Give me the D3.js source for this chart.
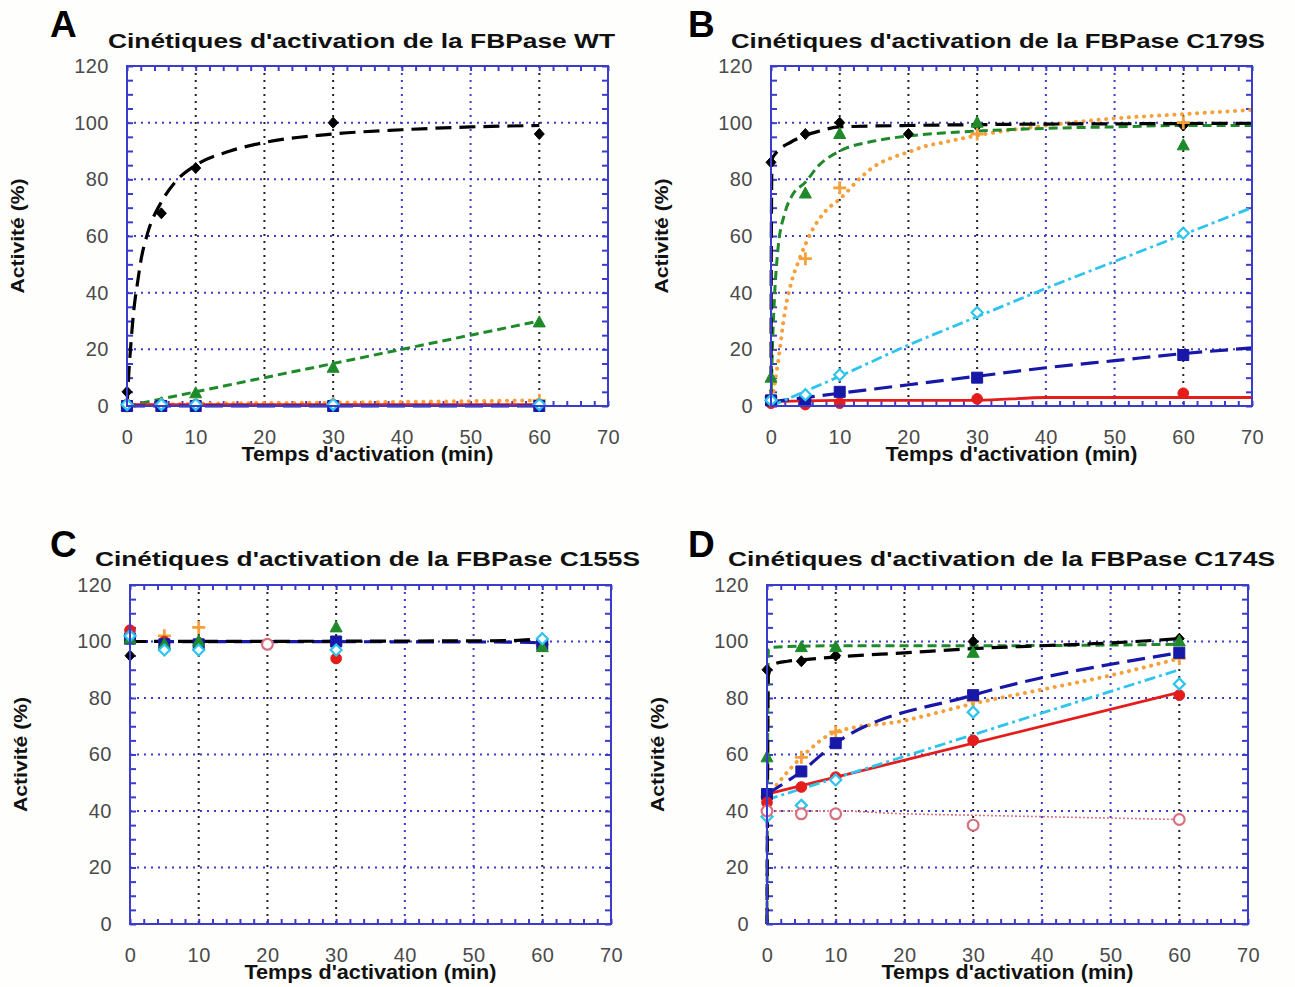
<!DOCTYPE html>
<html><head><meta charset="utf-8">
<script src="https://cdn.jsdelivr.net/npm/d3@7"></script>
<style>body{margin:0;background:#fff}svg{display:block}</style>
</head><body>
<svg id="c" width="1295" height="987"></svg>
<script>
// ---------- axis ticks ----------
const xTicks = [0,10,20,30,40,50,60,70];
const yTicks = [0,20,40,60,80,100,120];
const darkGridX = [10,20,30,60];
const sampleTimes = [0,5,10,30,60];

// ---------- Panel A : FBPase WT ----------
const A_black  = [5, 68, 84, 100, 96];
const A_green  = [0, 1, 4.5, 13.5, 29.5];
const A_orange = [0, 0.5, 0.5, 1, 2];
const A_red    = [0.5, 0.5, 0.5, 0.5, 0.5];
const A_blue   = [0, 0, 0, 0, 0];
const A_cyan   = [0.5, 0.5, 0.5, 0.5, 0.5];
const A_blackFitT = [0, 0.3, 0.6, 1, 1.5, 2, 3, 5, 7, 10, 15, 20, 30, 40, 50, 60];
const A_blackFitV = [0, 13, 23, 34, 43, 51, 61, 72, 79, 85, 90, 93, 96, 97.5, 98.5, 99];
const A_greenFitT = [0, 10, 20, 30, 40, 50, 60];
const A_greenFitV = [0, 5, 10, 15, 20, 25, 30];
const A_orangeFitV = [0, 0.5, 0.8, 1.2, 2];
const A_redFitV    = [0.5, 0.5, 0.5, 0.5, 0.5];
const A_blueFitV   = [0, 0, 0, 0, 0];

// ---------- Panel B : FBPase C179S ----------
const B_blackT = [0, 5, 10, 20, 30, 60];
const B_black  = [86, 96, 100, 96, 99, 99];
const B_green  = [10, 75, 96, 100, 92];
const B_orange = [3, 52, 77, 96, 100];
const B_cyan   = [2, 4, 11, 33, 61];
const B_blue   = [2, 2, 5, 10, 18];
const B_red    = [1, 0.5, 1, 2.5, 4.5];
const B_blackFitT = [0, 0.05, 0.15, 1, 2.8, 5, 7, 10, 20, 30, 40, 50, 60, 70];
const B_blackFitV = [0, 60, 87, 90, 93, 95.5, 97, 98.5, 99, 99.3, 99.5, 99.6, 99.7, 99.8];
const B_greenFitT = [0, 0.2, 0.5, 1, 2, 3, 5, 7, 10, 15, 20, 30, 40, 50, 60, 70];
const B_greenFitV = [0, 20, 38, 55, 68, 74, 79, 85, 90, 93.5, 95.3, 97, 98, 98.5, 99, 99];
const B_orangeFitT = [0, 1, 2, 3, 4, 5, 6, 8, 10, 13, 15, 18, 20, 22, 25, 30, 40, 50, 60, 70];
const B_orangeFitV = [0, 15, 33, 44, 51, 57, 62, 69, 73, 80.5, 84.5, 88, 89.6, 91.4, 93, 95.5, 99, 101.5, 103, 104.5];
const B_lineT = [0, 10, 20, 30, 40, 50, 60, 70];
const B_cyanFitV = [0, 10.5, 21.5, 31.5, 41.5, 51, 60.5, 70];
const B_blueFitV = [1.5, 4.5, 7.5, 10.5, 13.5, 16, 18.5, 20.5];
const B_redFitV  = [1.5, 2, 2, 2, 3, 3, 3, 3];

// ---------- Panel C : FBPase C155S ----------
const C_black  = [95, 100, 100, 100, 101];
const C_green  = [101, 99, 100, 105, 98];
const C_orange = [102, 102, 105, 99, 99];
const C_red    = [104, 100, 99, 94, 99];
const C_blue   = [101, 99, 99, 100, 99];
const C_cyan   = [102, 97, 97, 97, 101];
const C_pinkT  = [20];
const C_pink   = [99];
const C_lineT  = [0, 55, 60];
const C_blackFitV = [100, 100.3, 101];
const C_blueFitV  = [100, 99.8, 99.5];

// ---------- Panel D : FBPase C174S ----------
const D_black  = [90, 93, 95, 100, 101];
const D_green  = [59, 98, 98, 96, 100];
const D_blue   = [46, 54, 64, 81, 96];
const D_orange = [45, 59, 68, 79, 94];
const D_cyan   = [38, 42, 51, 75, 85];
const D_red    = [43, 48.5, 52, 65, 81];
const D_pink   = [40, 39, 39, 35, 37];
const D_blackFitT = [0, 0.2, 1, 3, 5, 10, 20, 30, 40, 50, 60];
const D_blackFitV = [0, 88, 92, 93, 93.5, 94.5, 96, 97.5, 98.5, 99.5, 101];
const D_greenFitT = [0, 0.2, 1, 10, 30, 60];
const D_greenFitV = [0, 97, 98, 98.5, 98.5, 99];
const D_orangeFitT = [0, 5, 10, 20, 30, 40, 50, 60];
const D_orangeFitV = [45, 59, 68, 72, 78, 83, 88, 94];
const D_lineEnds = [0, 60];
const D_cyanFitV = [44, 90];
const D_redFitV  = [46, 82];
const D_pinkFitT = [0, 10, 20, 30, 40, 50, 60];
const D_pinkFitV = [40, 40, 39, 38.5, 38, 37.5, 37];

// ---------- styles ----------
const styles = {
  black:  {color:'#000000', dash:'16,8',      width:3.2, cap:'butt',  marker:'diamond',  fill:true},
  green:  {color:'#1f8a2a', dash:'9,5',       width:3,   cap:'butt',  marker:'triangle', fill:true},
  orange: {color:'#f5a03a', dash:'0.1,7.5',   width:4,   cap:'round', marker:'plus',     fill:true},
  red:    {color:'#e41c1c', dash:null,        width:2.8, cap:'butt',  marker:'circle',   fill:true},
  blue:   {color:'#1818a8', dash:'18,8',      width:3.2, cap:'butt',  marker:'square',   fill:true},
  cyan:   {color:'#2ec4ee', dash:'11,4,3,4',  width:2.8, cap:'butt',  marker:'diamond',  fill:false},
  pink:   {color:'#d9707e', dash:'2,2',       width:1.6, cap:'butt',  marker:'circle',   fill:false}
};

function pairs(t, v){ return t.map((tt,i)=>[tt, v[i]]); }

const panels = [
  {l:127, r:608, t:66, b:406, letter:'A', lx:50, ly:37,
   title:"Cinétiques d'activation de la FBPase WT", tx:108, ty:48, tlen:507,
   lines:[
     ['green', pairs(A_greenFitT, A_greenFitV)],
     ['orange', pairs(sampleTimes, A_orangeFitV)],
     ['red', pairs(sampleTimes, A_redFitV)],
     ['blue', pairs(sampleTimes, A_blueFitV)],
     ['black', pairs(A_blackFitT, A_blackFitV)]
   ],
   points:[
     ['black', pairs(sampleTimes, A_black)],
     ['green', pairs(sampleTimes, A_green)],
     ['orange', pairs(sampleTimes, A_orange)],
     ['red', pairs(sampleTimes, A_red)],
     ['blue', pairs(sampleTimes, A_blue)],
     ['cyan', pairs(sampleTimes, A_cyan)]
   ]},
  {l:771, r:1252, t:66, b:406, letter:'B', lx:688, ly:37,
   title:"Cinétiques d'activation de la FBPase C179S", tx:731, ty:48, tlen:534,
   lines:[
     ['red', pairs(B_lineT, B_redFitV)],
     ['blue', pairs(B_lineT, B_blueFitV)],
     ['cyan', pairs(B_lineT, B_cyanFitV)],
     ['orange', pairs(B_orangeFitT, B_orangeFitV)],
     ['green', pairs(B_greenFitT, B_greenFitV)],
     ['black', pairs(B_blackFitT, B_blackFitV)]
   ],
   points:[
     ['black', pairs(B_blackT, B_black)],
     ['orange', pairs(sampleTimes, B_orange)],
     ['green', pairs(sampleTimes, B_green)],
     ['red', pairs(sampleTimes, B_red)],
     ['blue', pairs(sampleTimes, B_blue)],
     ['cyan', pairs(sampleTimes, B_cyan)]
   ]},
  {l:130, r:611, t:585, b:924, letter:'C', lx:50, ly:557,
   title:"Cinétiques d'activation de la FBPase C155S", tx:95, ty:566, tlen:545,
   lines:[
     ['blue', pairs(C_lineT, C_blueFitV)],
     ['black', pairs(C_lineT, C_blackFitV)]
   ],
   points:[
     ['black', pairs(sampleTimes, C_black)],
     ['orange', pairs(sampleTimes, C_orange)],
     ['red', pairs(sampleTimes, C_red)],
     ['blue', pairs(sampleTimes, C_blue)],
     ['green', pairs(sampleTimes, C_green)],
     ['cyan', pairs(sampleTimes, C_cyan)],
     ['pink', pairs(C_pinkT, C_pink)]
   ]},
  {l:767, r:1248, t:585, b:924, letter:'D', lx:688, ly:557,
   title:"Cinétiques d'activation de la FBPase C174S", tx:728, ty:566, tlen:547,
   lines:[
     ['pink', pairs(D_pinkFitT, D_pinkFitV)],
     ['red', pairs(D_lineEnds, D_redFitV)],
     ['cyan', pairs(D_lineEnds, D_cyanFitV)],
     ['orange', pairs(D_orangeFitT, D_orangeFitV)],
     ['blue', pairs(sampleTimes, D_blue)],
     ['green', pairs(D_greenFitT, D_greenFitV)],
     ['black', pairs(D_blackFitT, D_blackFitV)]
   ],
   points:[
     ['black', pairs(sampleTimes, D_black)],
     ['green', pairs(sampleTimes, D_green)],
     ['orange', pairs(sampleTimes, D_orange)],
     ['blue', pairs(sampleTimes, D_blue)],
     ['red', pairs(sampleTimes, D_red)],
     ['cyan', pairs(sampleTimes, D_cyan)],
     ['pink', pairs(sampleTimes, D_pink)]
   ]}
];

const svg = d3.select('#c');
svg.append('rect').attr('width',1295).attr('height',987).attr('fill','#fefefc');
const FONT = "'Liberation Sans', Arial, Helvetica, sans-serif";
const BLUE = '#3b3bcc';

function markerPath(kind, filled){
  if (kind==='diamond') return filled ? 'M0,-5.5L5,0L0,5.5L-5,0Z' : 'M0,-5.5L5.5,0L0,5.5L-5.5,0Z';
  if (kind==='triangle') return 'M0,-6.5L6,4.5L-6,4.5Z';
  if (kind==='square') return 'M-5.5,-5.5H5.5V5.5H-5.5Z';
  if (kind==='circle') return d3.symbol(d3.symbolCircle, 90)();
  if (kind==='plus') return 'M-6.5,0H6.5M0,-6.5V6.5';
}

panels.forEach(p => {
  const g = svg.append('g');
  const x = d3.scaleLinear().domain([0,70]).range([p.l, p.r]);
  const y = d3.scaleLinear().domain([0,120]).range([p.b, p.t]);

  g.append('rect').attr('x',p.l).attr('y',p.t).attr('width',p.r-p.l).attr('height',p.b-p.t).attr('fill','#ffffff');

  // grid
  g.selectAll('.hg').data(yTicks.filter(v=>v>0&&v<120)).enter().append('line')
    .attr('x1',p.l).attr('x2',p.r).attr('y1',d=>y(d)).attr('y2',d=>y(d))
    .attr('stroke',BLUE).attr('stroke-width',2).attr('stroke-dasharray','2,5');
  g.selectAll('.vg').data(xTicks.filter(v=>v>0&&v<70)).enter().append('line')
    .attr('y1',p.t).attr('y2',p.b).attr('x1',d=>x(d)).attr('x2',d=>x(d))
    .attr('stroke',d=>darkGridX.includes(d)?'#222':BLUE).attr('stroke-width',2).attr('stroke-dasharray','2,5');

  // inward ticks on all four sides
  const minorX = d3.range(0,71,2), minorY = d3.range(0,121,5);
  const tickStyle = sel => { sel.select('.domain').remove(); sel.selectAll('line').attr('stroke',BLUE).attr('stroke-width',2); sel.selectAll('text').remove(); };
  g.append('g').attr('transform',`translate(0,${p.b})`).call(d3.axisBottom(x).tickValues(minorX).tickSize(-5).tickFormat('')).call(tickStyle);
  g.append('g').attr('transform',`translate(0,${p.t})`).call(d3.axisTop(x).tickValues(minorX).tickSize(-5).tickFormat('')).call(tickStyle);
  g.append('g').attr('transform',`translate(${p.l},0)`).call(d3.axisLeft(y).tickValues(minorY).tickSize(-6).tickFormat('')).call(tickStyle);
  g.append('g').attr('transform',`translate(${p.r},0)`).call(d3.axisRight(y).tickValues(minorY).tickSize(-6).tickFormat('')).call(tickStyle);

  // lines
  const lineGen = d3.line().x(d=>x(d[0])).y(d=>y(d[1])).curve(d3.curveMonotoneX);
  p.lines.forEach(([k, data]) => {
    const s = styles[k];
    g.append('path').attr('d', lineGen(data)).attr('fill','none')
      .attr('stroke', s.color).attr('stroke-width', s.width)
      .attr('stroke-dasharray', s.dash).attr('stroke-linecap', s.cap);
  });

  // markers
  p.points.forEach(([k, data]) => {
    const s = styles[k];
    g.selectAll(null).data(data).enter().append('path')
      .attr('transform', d=>`translate(${x(d[0])},${y(d[1])})`)
      .attr('d', markerPath(s.marker, s.fill))
      .attr('fill', s.marker==='plus' ? 'none' : (s.fill ? s.color : '#ffffff'))
      .attr('stroke', s.color).attr('stroke-width', s.marker==='plus' ? 2.8 : (s.fill?1:2.2));
  });

  // border
  g.append('rect').attr('x',p.l).attr('y',p.t).attr('width',p.r-p.l).attr('height',p.b-p.t)
    .attr('fill','none').attr('stroke',BLUE).attr('stroke-width',2);

  // tick labels
  const lab = sel => { sel.select('.domain').remove(); sel.selectAll('line').remove();
    sel.selectAll('text').attr('font-family',FONT).attr('font-size',20).attr('fill','#4a4a4a').attr('letter-spacing',0.5); };
  g.append('g').attr('transform',`translate(0,${p.b})`)
    .call(d3.axisBottom(x).tickValues(xTicks).tickSize(0).tickPadding(24).tickFormat(d3.format('d'))).call(lab);
  g.append('g').attr('transform',`translate(${p.l},0)`)
    .call(d3.axisLeft(y).tickValues(yTicks).tickSize(0).tickPadding(18).tickFormat(d3.format('d'))).call(lab);

  // axis titles
  g.append('text').attr('x',(p.l+p.r)/2).attr('y',p.b+55).attr('text-anchor','middle')
    .attr('font-family',FONT).attr('font-weight','bold').attr('font-size',21).attr('fill','#111')
    .attr('textLength',252).attr('lengthAdjust','spacingAndGlyphs').text("Temps d'activation (min)");
  g.append('text').attr('transform',`translate(${p.l-103},${(p.t+p.b)/2}) rotate(-90)`).attr('text-anchor','middle')
    .attr('font-family',FONT).attr('font-weight','bold').attr('font-size',19).attr('fill','#111')
    .attr('textLength',115).attr('lengthAdjust','spacingAndGlyphs').text('Activité (%)');

  // title and letter
  g.append('text').attr('x',p.tx).attr('y',p.ty)
    .attr('font-family',FONT).attr('font-weight','bold').attr('font-size',21).attr('fill','#111')
    .attr('textLength',p.tlen).attr('lengthAdjust','spacingAndGlyphs').text(p.title);
  g.append('text').attr('x',p.lx).attr('y',p.ly)
    .attr('font-family',FONT).attr('font-weight','bold').attr('font-size',37).attr('fill','#000').text(p.letter);
});
</script></body></html>
